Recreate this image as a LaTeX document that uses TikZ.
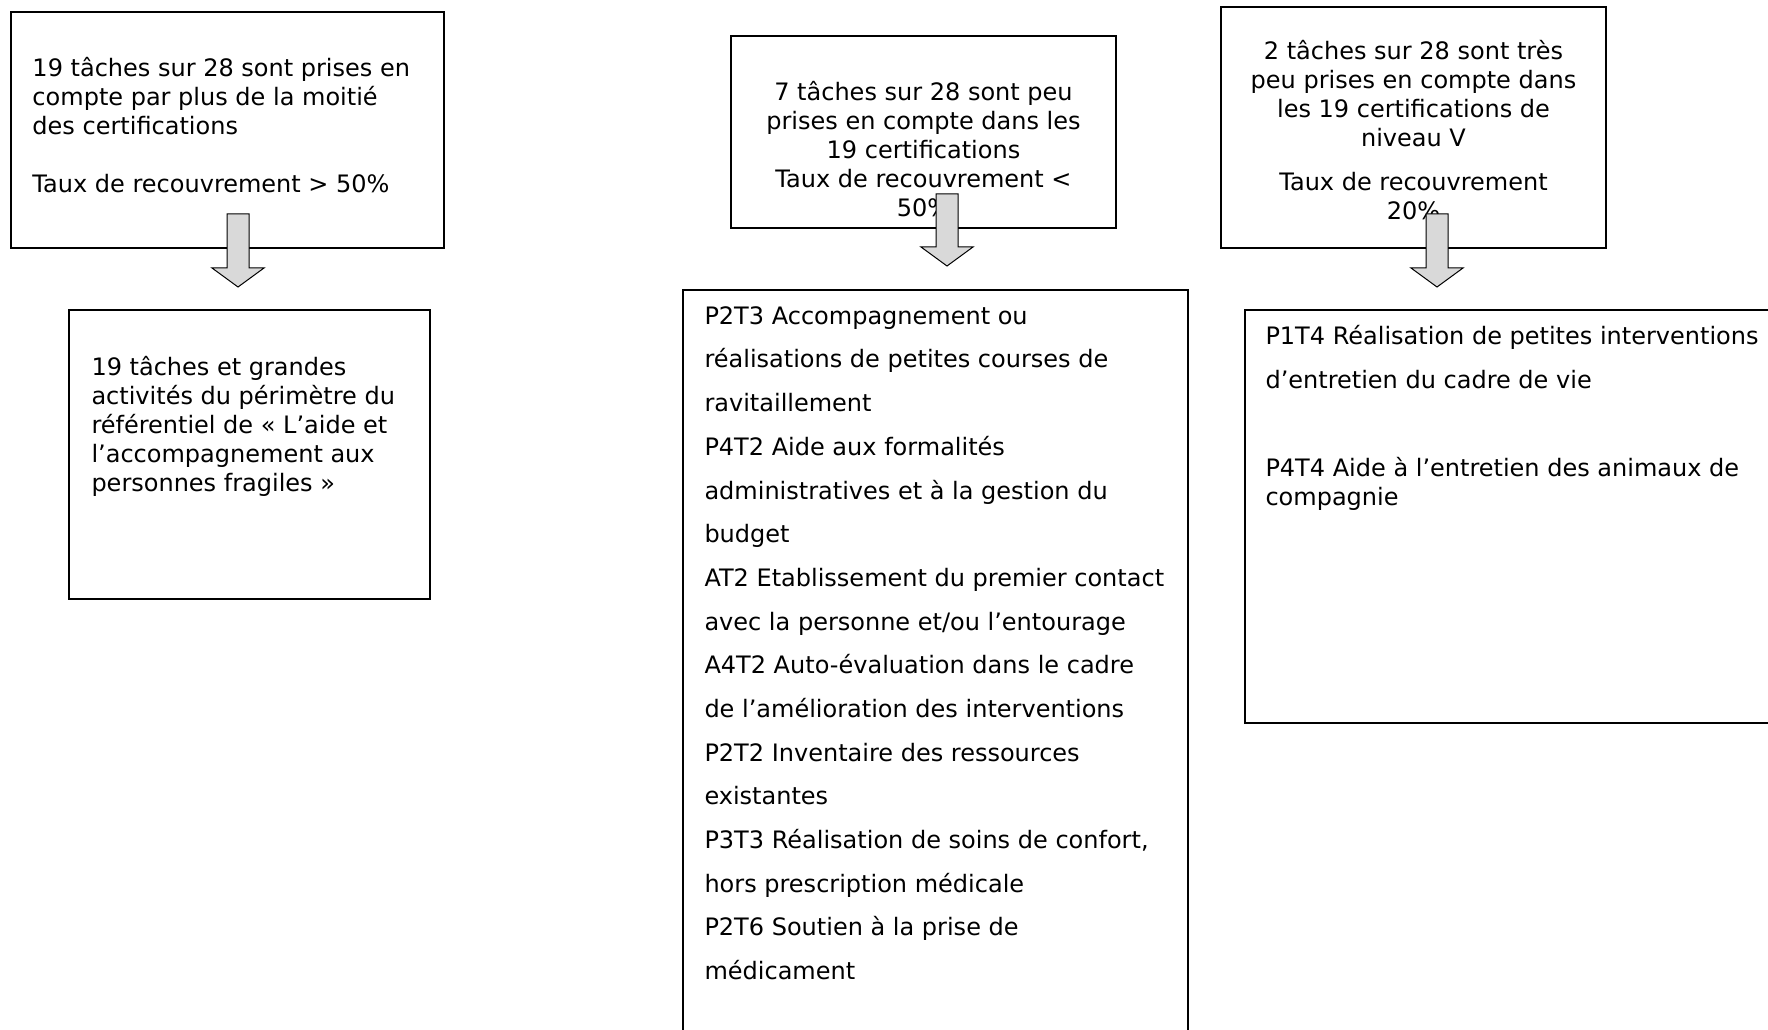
\documentclass[tikz,border=0pt]{standalone}
\usepackage{fontspec}
\setmainfont{DejaVu Sans}
\usetikzlibrary{calc,fit}
\tikzset{every picture/.style={line width=0.75pt}}
\tikzset{
  cadre/.style={draw, line width=1.5pt, inner sep=0pt},
  texte/.style={inner sep=0pt, font=\fontsize{18}{21.8}\selectfont},
  texteliste/.style={inner sep=0pt, font=\fontsize{18}{32.76}\selectfont},
  grossefleche/.style={draw, line width=0.75pt, fill=gray!30,
    to path={($(\tikztostart)+(-11,0)$) -- ($(\tikztostart)+(11,0)$) -- ($(\tikztotarget)+(11,-19)$)
      -- ($(\tikztotarget)+(26,-19)$) -- (\tikztotarget) -- ($(\tikztotarget)+(-26,-19)$)
      -- ($(\tikztotarget)+(-11,-19)$) -- cycle}}
}

\begin{document}
\begin{tikzpicture}[x=0.75pt,y=0.75pt,yscale=-1,xscale=1]
\useasboundingbox (0,0) rectangle (1768,1030);

%Shape: Rectangle [haut gauche]
\node [cadre, fit={(11,12) (444,248)}] (cadre1) {};
%Shape: Rectangle [haut milieu]
\node [cadre, fit={(731,36) (1116,228)}] (cadre2) {};
%Shape: Rectangle [haut droite]
\node [cadre, fit={(1221,7) (1606,248)}] (cadre3) {};
%Shape: Rectangle [bas gauche]
\node [cadre, fit={(69,310) (430,599)}] (cadre4) {};
%Shape: Rectangle [bas milieu]
\node [cadre, fit={(683,290) (1188,1060)}] (cadre5) {};
%Shape: Rectangle [bas droite]
\node [cadre, fit={(1245,310) (1800,723)}] (cadre6) {};

% Text Node
\draw (32,57) node [texte, anchor=north west] [align=left] (txt1) {19 tâches sur 28 sont prises en\\compte par plus de la moitié\\des certifications\\[21.8pt]Taux de recouvrement > 50\%};
% Text Node
\draw (923.5,81) node [texte, anchor=north] [align=center] (txt2) {7 tâches sur 28 sont peu\\prises en compte dans les\\19 certifications\\Taux de recouvrement <\\50\%};
% Text Node
\draw (1413.5,40) node [texte, anchor=north] [align=center] (txt3) {2 tâches sur 28 sont très\\peu prises en compte dans\\les 19 certifications de\\niveau V\\[11pt]Taux de recouvrement\\20\%};
% Text Node
\draw (91,356) node [texte, anchor=north west] [align=left] (txt4) {19 tâches et grandes\\activités du périmètre du\\référentiel de « L’aide et\\l’accompagnement aux\\personnes fragiles »};
% Text Node
\draw (704,306) node [texteliste, anchor=north west] [align=left] (txt5) {P2T3 Accompagnement ou\\réalisations de petites courses de\\ravitaillement\\P4T2 Aide aux formalités\\administratives et à la gestion du\\budget\\AT2 Etablissement du premier contact\\avec la personne et/ou l’entourage\\A4T2 Auto-évaluation dans le cadre\\de l’amélioration des interventions\\P2T2 Inventaire des ressources\\existantes\\P3T3 Réalisation de soins de confort,\\hors prescription médicale\\P2T6 Soutien à la prise de\\médicament};
% Text Node
\draw (1265,325) node [texte, anchor=north west] [align=left] (txt6) {P1T4 Réalisation de petites interventions\\[11.2pt]d’entretien du cadre de vie\\[44.2pt]P4T4 Aide à l’entretien des animaux de\\compagnie};

%Block Arrows
\coordinate (f1a) at (238,214); \coordinate (f1b) at (238,287);
\coordinate (f2a) at (947,194); \coordinate (f2b) at (947,266);
\coordinate (f3a) at (1437,214); \coordinate (f3b) at (1437,287);
\draw [grossefleche] (f1a) to (f1b);
\draw [grossefleche] (f2a) to (f2b);
\draw [grossefleche] (f3a) to (f3b);

\end{tikzpicture}
\end{document}
